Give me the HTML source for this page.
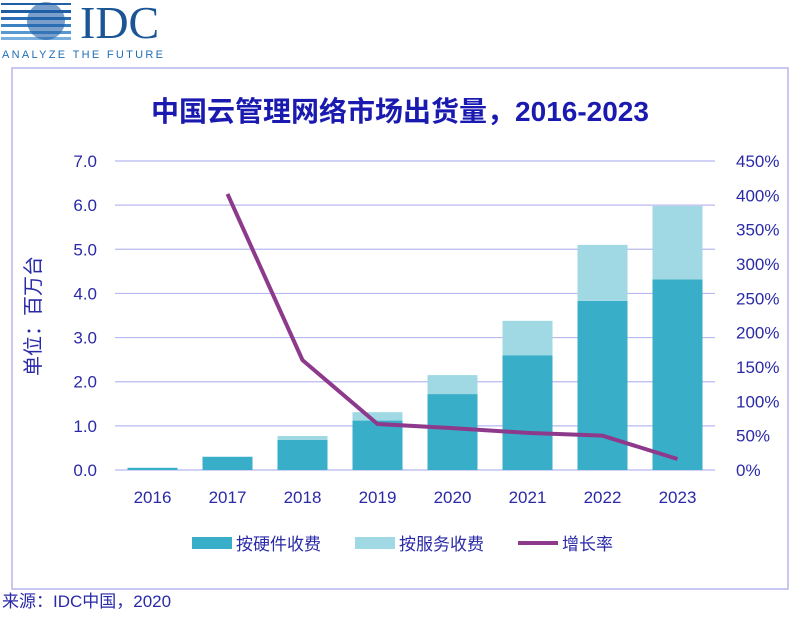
<!DOCTYPE html>
<html><head><meta charset="utf-8"><style>
body{margin:0;width:799px;height:613px;background:#fff;overflow:hidden;font-family:"Liberation Sans","Noto Sans CJK SC",sans-serif;}
</style></head><body>
<svg width="799" height="613" xmlns="http://www.w3.org/2000/svg" font-family="Liberation Sans, Noto Sans CJK SC, sans-serif">
<g>
  <rect x="1" y="3" width="70" height="2" fill="#1f5fa6"/>
  <rect x="1" y="10" width="70" height="3" fill="#1f5fa6"/>
  <rect x="1" y="17" width="70" height="3" fill="#2a6fb5"/>
  <rect x="1" y="24" width="70" height="3" fill="#3a82c4"/>
  <rect x="1" y="31" width="70" height="3" fill="#5598d2"/>
  <rect x="1" y="37" width="70" height="3" fill="#7ab0de"/>
  <circle cx="46" cy="21" r="19" fill="#1f5fa6" opacity="0.6"/>
  <text x="80" y="38" font-family="Liberation Serif, serif" font-size="46" fill="#1a5596">IDC</text>
  <text x="2" y="58" font-size="11" fill="#1f6fb5" letter-spacing="2.3">ANALYZE THE FUTURE</text>
</g>
<rect x="12" y="68" width="776" height="521" fill="none" stroke="#b6b6ee" stroke-width="1.5"/>
<text x="400" y="121" text-anchor="middle" font-size="28" font-weight="bold" fill="#1a1ab0">中国云管理网络市场出货量，2016-2023</text>
<text transform="translate(40,316) rotate(-90)" text-anchor="middle" font-size="20" fill="#2a2aa8">单位：百万台</text>
<g id="grid"></g><g id="bars"></g><g id="line"></g><g id="axes"></g>
<g font-size="17" fill="#2a2aa8">
  <rect x="192" y="537" width="40" height="12" fill="#38aec8"/>
  <text x="236" y="550" fill="#2a2aa8">按硬件收费</text>
  <rect x="355" y="537" width="40" height="12" fill="#a0d9e3"/>
  <text x="399" y="550" fill="#2a2aa8">按服务收费</text>
  <line x1="518" y1="543" x2="558" y2="543" stroke="#8e3a8c" stroke-width="4"/>
  <text x="562" y="550" fill="#2a2aa8">增长率</text>
</g>
<text x="2" y="607" font-size="17" fill="#2a2aa8">来源：IDC中国，2020</text>
</svg>
<script>
const years=["2016","2017","2018","2019","2020","2021","2022","2023"];
const hardware=[0.05,0.30,0.68,1.12,1.72,2.60,3.83,4.32];
const service=[0.0,0.0,0.09,0.19,0.43,0.78,1.27,1.66];
const growth=[null,402,160,67,61,54,50,16];
const leftTicks=[0,1,2,3,4,5,6,7];
const rightTicks=[0,50,100,150,200,250,300,350,400,450];
const NS="http://www.w3.org/2000/svg";
const X0=115,X1=715,Y0=470,Y1=161;
const yL=v=>Y0-(v/7)*(Y0-Y1);
const yR=v=>Y0-(v/450)*(Y0-Y1);
const step=(X1-X0)/years.length;
const xC=i=>X0+step*(i+0.5);
const bw=50;
function mk(t,a,p){const e=document.createElementNS(NS,t);for(const k in a)e.setAttribute(k,a[k]);p.appendChild(e);return e;}
const grid=document.getElementById('grid'),bars=document.getElementById('bars'),line=document.getElementById('line'),axes=document.getElementById('axes');
leftTicks.forEach(v=>{
  const l=mk('line',{x1:X0,x2:X1,y1:yL(v),y2:yL(v),stroke:'#b8b8f0','stroke-width':1.2},grid);
  
  
  const t=mk('text',{x:97,y:yL(v)+6,'text-anchor':'end','font-size':17,fill:'#2a2aa8'},axes);
  t.textContent=v.toFixed(1);
  
  
});
rightTicks.forEach(v=>{
  const t=mk('text',{x:736,y:yR(v)+6,'font-size':17,fill:'#2a2aa8'},axes);
  t.textContent=v+'%';
  
  
});
years.forEach((y,i)=>{
  const h=mk('rect',{x:xC(i)-bw/2,y:yL(hardware[i]),width:bw,height:Y0-yL(hardware[i]),fill:'#38aec8'},bars);
  
  
  if(service[i]>0){
    const s=mk('rect',{x:xC(i)-bw/2,y:yL(hardware[i]+service[i]),width:bw,height:yL(hardware[i])-yL(hardware[i]+service[i]),fill:'#a0d9e3'},bars);
    
    
  }
  const t=mk('text',{x:xC(i),y:503,'text-anchor':'middle','font-size':17,fill:'#2a2aa8'},axes);
  t.textContent=y;
  
  
});
const pts=[];growth.forEach((g,i)=>{if(g!==null)pts.push(xC(i)+','+yR(g));});
const pl=mk('polyline',{points:pts.join(' '),fill:'none',stroke:'#8e3a8c','stroke-width':4,'stroke-linejoin':'round'},line);


</script>
</body></html>
